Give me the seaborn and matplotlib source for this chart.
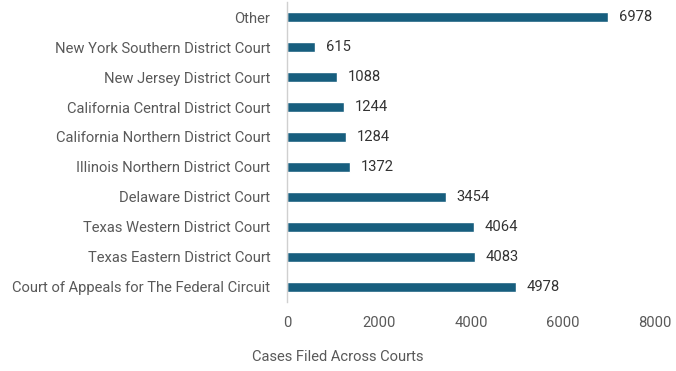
import matplotlib
matplotlib.use("Agg")
import matplotlib.pyplot as plt
import pandas as pd
import seaborn as sns

courts = [
    "Other",
    "New York Southern District Court",
    "New Jersey District Court",
    "California Central District Court",
    "California Northern District Court",
    "Illinois Northern District Court",
    "Delaware District Court",
    "Texas Western District Court",
    "Texas Eastern District Court",
    "Court of Appeals for The Federal Circuit",
]
cases = [6978, 615, 1088, 1244, 1284, 1372, 3454, 4064, 4083, 4978]
x_ticks = [0, 2000, 4000, 6000, 8000]

sns.set_theme(style="white")
plt.rcParams["font.family"] = ["Roboto", "DejaVu Sans"]

TEXT = "#595959"
BAR = "#175e7e"
FS = 10.6

df = pd.DataFrame({"Court": courts, "Cases": cases})

fig = plt.figure(figsize=(6.76, 3.71), dpi=100)
ax = fig.add_axes([0.4246, 0.186, 0.5444, 0.8086])
sns.barplot(data=df, x="Cases", y="Court", color=BAR, width=0.34, saturation=1, ax=ax)

for i, v in enumerate(cases):
    ax.text(v + 230, i, str(v), va="center", ha="left", fontsize=FS, color="#333333")

ax.set_xlim(0, 8000)
ax.set_ylim(9.5, -0.5)
ax.set_xticks(x_ticks)
ax.set_xticklabels([str(t) for t in x_ticks])
ax.tick_params(axis="x", length=0, pad=10, labelsize=FS, labelcolor=TEXT)
ax.tick_params(axis="y", length=0, pad=12, labelsize=FS, labelcolor=TEXT)
for s in ["top", "right", "bottom"]:
    ax.spines[s].set_visible(False)
ax.spines["left"].set_color("#d0d0d0")
ax.spines["left"].set_linewidth(1)
ax.set_ylabel("")
ax.set_xlabel("")
fig.text(0.5, 1 - 357 / 371, "Cases Filed Across Courts", ha="center", va="center",
         fontsize=FS, color=TEXT)

fig.savefig("out.png", dpi=100)
